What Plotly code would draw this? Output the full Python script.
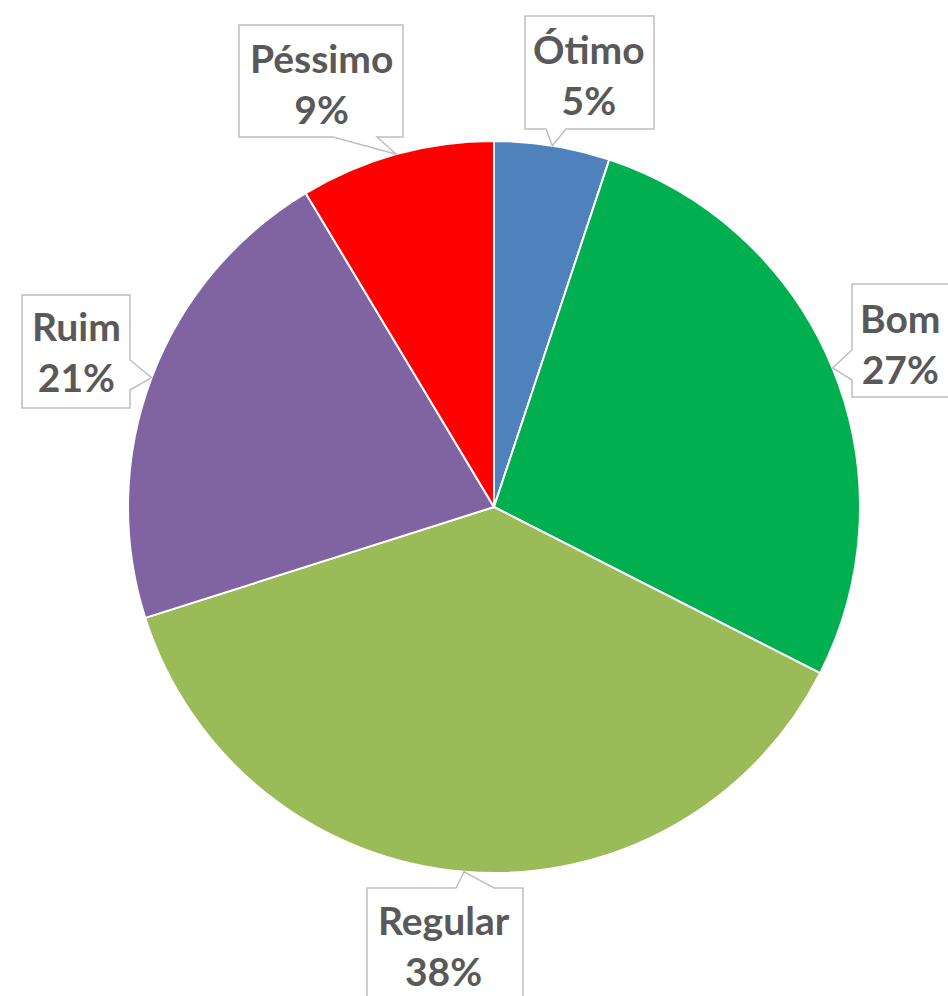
import math
import plotly.graph_objects as go

# ---- data ----
categories = ["Ótimo", "Bom", "Regular", "Ruim", "Péssimo"]
values = [5.1, 27.4, 37.6, 21.3, 8.6]
colors = ["#4F81BD", "#00B050", "#9BBB59", "#8064A2", "#FF0000"]

# ---- layout constants (pixels) ----
W, H = 948, 996
CX, CY, R = 494, 507, 366

# callout boxes: (x0, y0, x1, y1), side of tail, tail base (a, b), text center
callouts = {
    "Ótimo":   dict(box=(525, 16, 654, 129), side="bottom", base=(546, 566), text=(589, 74)),
    "Bom":     dict(box=(852, 284, 960, 397), side="left", base=(350, 380), text=(900, 343)),
    "Regular": dict(box=(367, 888, 523, 1010), side="top", base=(456, 494), text=(444, 945)),
    "Ruim":    dict(box=(22, 295, 130, 408), side="right", base=(360, 390), text=(76, 352)),
    "Péssimo": dict(box=(239, 25, 403, 137), side="bottom", base=(333, 377), text=(321, 83)),
}


def px(x, y):
    return x / W, 1 - y / H


def path_px(points):
    parts = []
    for i, (x, y) in enumerate(points):
        u, v = px(x, y)
        parts.append(("M" if i == 0 else "L") + f"{u:.5f},{v:.5f}")
    return " ".join(parts) + " Z"


total = sum(values)
fig = go.Figure(go.Pie(
    labels=categories,
    values=values,
    sort=False,
    direction="clockwise",
    rotation=0,
    marker=dict(colors=colors, line=dict(color="white", width=2)),
    textinfo="none",
    hoverinfo="label+percent",
    showlegend=False,
    domain=dict(x=[(CX - R) / W, (CX + R) / W], y=[1 - (CY + R) / H, 1 - (CY - R) / H]),
))

shapes = []
annotations = []
cum = 0.0
for cat, val in zip(categories, values):
    mid = (cum + val / 2) / total * 2 * math.pi
    cum += val
    tx = CX + R * math.sin(mid)
    ty = CY - R * math.cos(mid)
    c = callouts[cat]
    x0, y0, x1, y1 = c["box"]
    a, b = c["base"]
    s = c["side"]
    if s == "bottom":
        pts = [(x0, y0), (x1, y0), (x1, y1), (b, y1), (tx, ty), (a, y1), (x0, y1)]
    elif s == "top":
        pts = [(x0, y0), (a, y0), (tx, ty), (b, y0), (x1, y0), (x1, y1), (x0, y1)]
    elif s == "left":
        pts = [(x0, y0), (x1, y0), (x1, y1), (x0, y1), (x0, b), (tx, ty), (x0, a)]
    else:
        pts = [(x0, y0), (x1, y0), (x1, a), (tx, ty), (x1, b), (x1, y1), (x0, y1)]
    shapes.append(dict(type="path", xref="paper", yref="paper", path=path_px(pts),
                       fillcolor="white", line=dict(color="#BFBFBF", width=1.5), layer="above"))
    u, v = px(*c["text"])
    pct = round(val / total * 100)
    annotations.append(dict(x=u, y=v, xref="paper", yref="paper", xanchor="center", yanchor="middle",
                            text=f"{cat}<br>{pct}%", showarrow=False,
                            font=dict(family="Lato", size=39, color="#595959", weight="bold")))

fig.update_layout(
    width=W, height=H,
    margin=dict(l=0, r=0, t=0, b=0),
    paper_bgcolor="white",
    plot_bgcolor="white",
    shapes=shapes,
    annotations=annotations,
)

fig.write_html("out.html", config={"displayModeBar": False},
               post_script="document.body.style.margin='0';document.body.style.overflow='hidden';")
